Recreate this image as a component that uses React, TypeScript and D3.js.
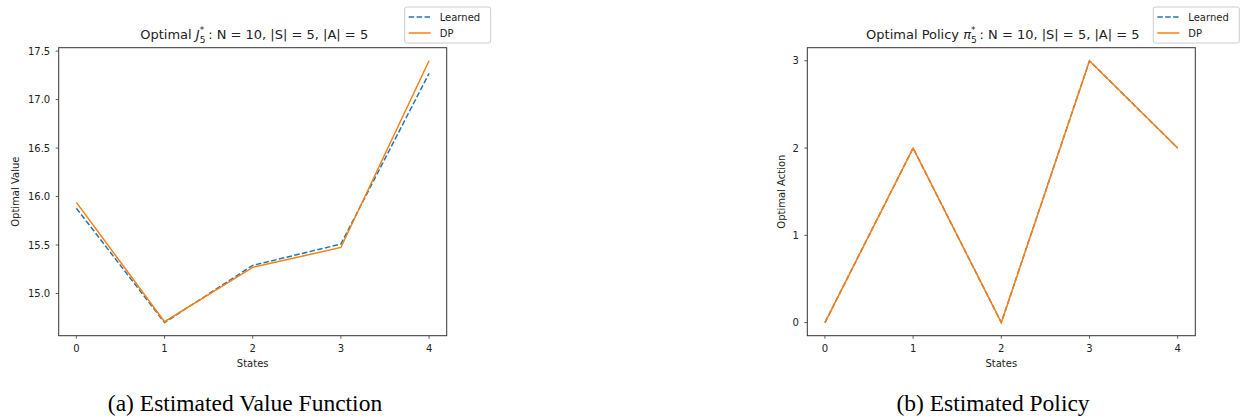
import React from "react";
import * as d3 from "d3";

const states = [0, 1, 2, 3, 4];
const valueLearned = [15.88, 14.7, 15.29, 15.51, 17.27];
const valueDP = [15.94, 14.71, 15.27, 15.475, 17.4];
const policyLearned = [0, 2, 0, 3, 2];
const policyDP = [0, 2, 0, 3, 2];
const valueTicks = [15.0, 15.5, 16.0, 16.5, 17.0, 17.5];
const policyTicks = [0, 1, 2, 3];
const seriesNames = ["Learned", "DP"];
const captions = ["(a) Estimated Value Function", "(b) Estimated Policy"];

const C0 = "#1f77b4";
const C1 = "#ff7f0e";
const FONT = "'DejaVu Sans', sans-serif";
const TXT = "#222";

type PanelProps = {
  left: number;
  learned: number[];
  dp: number[];
  yTicks: number[];
  yFmt: (v: number) => string;
  title: React.ReactNode;
  yLabel: string;
  yLabelOffset: number;
  caption: string;
  captionX: number;
};

function Panel(p: PanelProps) {
  const top = 47.7;
  const bottom = 335.7;
  const width = 388;
  const right = p.left + width;
  const all = [...p.learned, ...p.dp];
  const mn = d3.min(all)!;
  const mx = d3.max(all)!;
  const pad = (mx - mn) * 0.05;
  const x = d3.scaleLinear().domain([-0.2, 4.2]).range([p.left, right]);
  const y = d3.scaleLinear().domain([mn - pad, mx + pad]).range([bottom, top]);
  const line = d3
    .line<number>()
    .x((_, i) => x(states[i]))
    .y((d) => y(d));
  const lgL = right - 42;
  const lgR = right + 44;
  return (
    <g>
      <path d={line(p.learned)!} fill="none" stroke={C0} strokeWidth={1.5} strokeDasharray="5.5,2.4" />
      <path d={line(p.dp)!} fill="none" stroke={C1} strokeWidth={1.5} />
      <rect x={p.left} y={top} width={width} height={bottom - top} fill="none" stroke="#333" strokeWidth={1} />
      {states.map((s) => (
        <g key={"x" + s}>
          <line x1={x(s)} x2={x(s)} y1={bottom} y2={bottom + 3} stroke="#333" strokeWidth={0.8} />
          <text x={x(s)} y={bottom + 16.5} textAnchor="middle" fontSize={10} fontFamily={FONT} fill={TXT}>
            {s}
          </text>
        </g>
      ))}
      {p.yTicks.map((t) => (
        <g key={"y" + t}>
          <line x1={p.left - 3} x2={p.left} y1={y(t)} y2={y(t)} stroke="#333" strokeWidth={0.8} />
          <text x={p.left - 8.5} y={y(t) + 3.6} textAnchor="end" fontSize={10} fontFamily={FONT} fill={TXT}>
            {p.yFmt(t)}
          </text>
        </g>
      ))}
      <text x={(p.left + right) / 2} y={bottom + 31} textAnchor="middle" fontSize={10} fontFamily={FONT} fill={TXT}>
        States
      </text>
      <text
        transform={`translate(${p.left - p.yLabelOffset},${(top + bottom) / 2}) rotate(-90)`}
        textAnchor="middle"
        fontSize={10}
        fontFamily={FONT}
        fill={TXT}
      >
        {p.yLabel}
      </text>
      <text x={(p.left + right) / 2 + 1.5} y={top - 8.4} textAnchor="middle" fontSize={13} fontFamily={FONT} fill={TXT}>
        {p.title}
      </text>
      <rect x={lgL} y={7} width={lgR - lgL} height={36} rx={2} fill="white" fillOpacity={0.8} stroke="#cccccc" strokeWidth={1} />
      {seriesNames.map((n, i) => (
        <g key={n}>
          <line
            x1={lgL + 4}
            x2={lgL + 26}
            y1={17 + i * 16}
            y2={17 + i * 16}
            stroke={i === 0 ? C0 : C1}
            strokeWidth={1.5}
            strokeDasharray={i === 0 ? "5.5,2.4" : undefined}
          />
          <text x={lgL + 35} y={17 + i * 16 + 3.6} fontSize={10} fontFamily={FONT} fill={TXT}>
            {n}
          </text>
        </g>
      ))}
      <text
        x={p.captionX}
        y={411}
        textAnchor="middle"
        fontSize={23.5}
        fontFamily="'Liberation Serif', 'Times New Roman', serif"
        fill="#000"
      >
        {p.caption}
      </text>
    </g>
  );
}

export default function App() {
  return (
    <svg
      width={1247}
      height={418}
      style={{ position: "absolute", left: 0, top: 0, background: "white" }}
    >
      <rect width={1247} height={418} fill="white" />
      <Panel
        left={58.7}
        learned={valueLearned}
        dp={valueDP}
        yTicks={valueTicks}
        yFmt={(v) => v.toFixed(1)}
        yLabel="Optimal Value"
        yLabelOffset={40}
        caption={captions[0]}
        captionX={245}
        title={
          <>
            {"Optimal "}
            <tspan fontStyle="italic">J</tspan>
            <tspan fontSize={9} dy={3.5}>5</tspan>
            <tspan fontSize={9} dx={-5.7} dy={-9.5}>*</tspan>
            <tspan dx={4} dy={6}>{": N = 10, |S| = 5, |A| = 5"}</tspan>
          </>
        }
      />
      <Panel
        left={807.3}
        learned={policyLearned}
        dp={policyDP}
        yTicks={policyTicks}
        yFmt={(v) => String(v)}
        yLabel="Optimal Action"
        yLabelOffset={22.8}
        caption={captions[1]}
        captionX={993}
        title={
          <>
            {"Optimal Policy "}
            <tspan fontStyle="italic">π</tspan>
            <tspan fontSize={9} dy={3.5}>5</tspan>
            <tspan fontSize={9} dx={-5.7} dy={-9.5}>*</tspan>
            <tspan dx={4} dy={6}>{": N = 10, |S| = 5, |A| = 5"}</tspan>
          </>
        }
      />
    </svg>
  );
}
